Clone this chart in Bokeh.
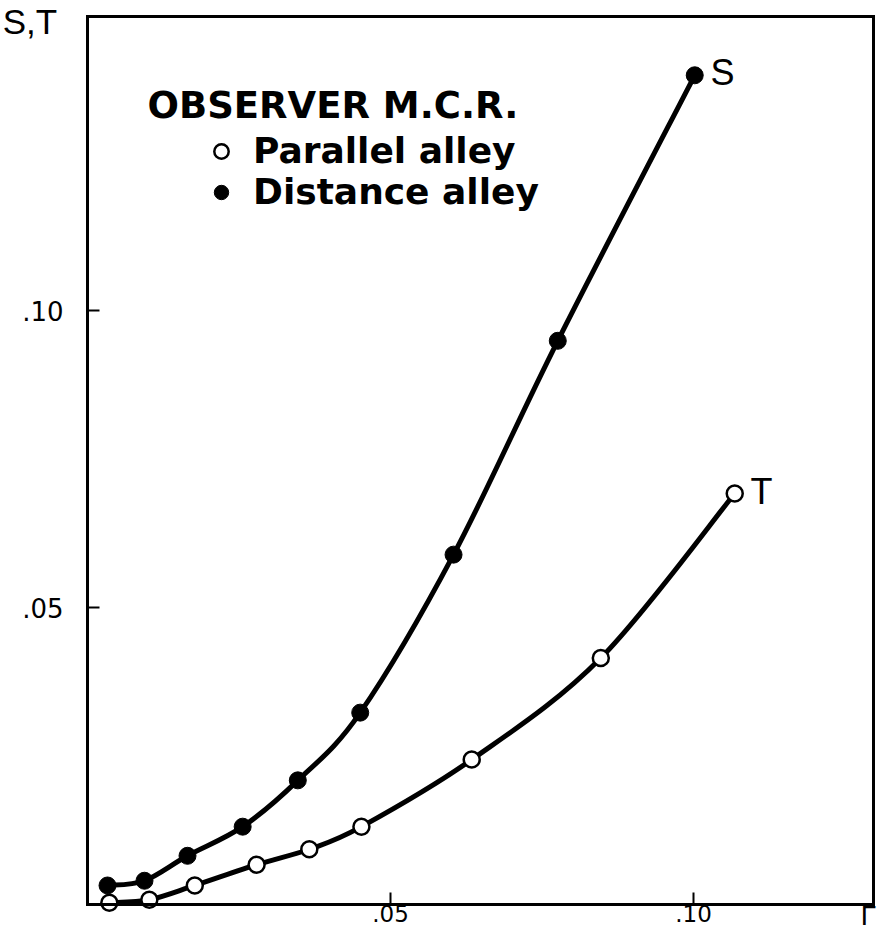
import numpy as np
from bokeh.plotting import figure
from bokeh.models import Range1d, FixedTicker, Label, Legend, LegendItem, LinearAxis
from bokeh.embed import file_html
from bokeh.resources import INLINE

# Distance alley (S), filled circles
gamma_distance = [0.0033, 0.0094, 0.0165, 0.0256, 0.0347, 0.0450, 0.0604, 0.0776, 0.1002]
S_distance = [0.0032, 0.0040, 0.0082, 0.0131, 0.0209, 0.0323, 0.0589, 0.0949, 0.1396]

# Parallel alley (T), open circles
gamma_parallel = [0.0036, 0.0102, 0.0177, 0.0279, 0.0366, 0.0452, 0.0634, 0.0847, 0.1068]
T_parallel = [0.0003, 0.0008, 0.0032, 0.0067, 0.0093, 0.0131, 0.0244, 0.0415, 0.0692]

x_ticks = [0.05, 0.10]
x_tick_labels = [".05", ".10"]
y_ticks = [0.05, 0.10]
y_tick_labels = [".05", ".10"]

# axis box (data limits of the drawn frame)
x_lo, x_hi = 0.0, 0.1297
y_lo, y_hi = 0.0, 0.1495


def curve_through(xs, ys):
    """Bezier pieces (Catmull-Rom style) passing through the given points."""
    x = np.asarray(xs, dtype=float)
    y = np.asarray(ys, dtype=float)
    n = len(x)
    xp = np.concatenate([[x[0]], x, [x[-1]]])
    yp = np.concatenate([[y[0]], y, [y[-1]]])
    return dict(
        x0=x[:-1], y0=y[:-1], x1=x[1:], y1=y[1:],
        cx0=xp[1:n] + (xp[2:n + 1] - xp[0:n - 1]) / 6.0,
        cy0=yp[1:n] + (yp[2:n + 1] - yp[0:n - 1]) / 6.0,
        cx1=xp[2:n + 1] - (xp[3:n + 2] - xp[1:n]) / 6.0,
        cy1=yp[2:n + 1] - (yp[3:n + 2] - yp[1:n]) / 6.0,
    )


p = figure(width=881, height=932, output_backend="svg", toolbar_location=None,
           x_range=Range1d(-0.01436, 0.13102), y_range=Range1d(-0.004714, 0.15219),
           min_border_left=0, min_border_right=0, min_border_top=0, min_border_bottom=0)
p.grid.visible = False
p.background_fill_color = "white"
p.border_fill_color = "white"
p.outline_line_color = None

xa = p.xaxis[0]
ya = p.yaxis[0]
xa.fixed_location = y_lo
xa.bounds = (x_lo, x_hi)
ya.fixed_location = x_lo
ya.bounds = (y_lo, y_hi)

for ax, ticks, labels in ((xa, x_ticks, x_tick_labels), (ya, y_ticks, y_tick_labels)):
    ax.ticker = FixedTicker(ticks=ticks)
    ax.major_label_overrides = {t: l for t, l in zip(ticks, labels)}
    ax.axis_line_width = 3
    ax.axis_line_color = "black"
    ax.axis_line_cap = "square"
    ax.major_tick_in = 12
    ax.major_tick_out = 0
    ax.major_tick_line_width = 2
    ax.minor_tick_line_color = None
    ax.major_label_text_font = "DejaVu Sans"
    ax.major_label_text_color = "black"
xa.major_label_text_font_size = "23px"
xa.major_label_standoff = 1
ya.major_label_text_font_size = "26px"
ya.major_label_standoff = 24

top_axis = LinearAxis(fixed_location=y_hi, bounds=(x_lo, x_hi), ticker=FixedTicker(ticks=[]),
                      axis_line_width=3, axis_line_cap="square",
                      major_tick_line_color=None, minor_tick_line_color=None,
                      major_label_text_font_size="0px")
right_axis = LinearAxis(fixed_location=x_hi, bounds=(y_lo, y_hi), ticker=FixedTicker(ticks=[]),
                        axis_line_width=3, axis_line_cap="square",
                        major_tick_line_color=None, minor_tick_line_color=None,
                        major_label_text_font_size="0px")
p.add_layout(top_axis, "above")
p.add_layout(right_axis, "right")

p.bezier(line_width=5, line_color="black", line_cap="round",
         **curve_through(gamma_distance, S_distance))
p.bezier(line_width=5, line_color="black", line_cap="round",
         **curve_through(gamma_parallel, T_parallel))
s_pts = p.scatter(gamma_distance, S_distance, size=17, fill_color="black", line_color="black")
t_pts = p.scatter(gamma_parallel, T_parallel, size=16, fill_color="white",
                  line_color="black", line_width=2.5)

legend = Legend(items=[LegendItem(label="Parallel alley", renderers=[t_pts]),
                       LegendItem(label="Distance alley", renderers=[s_pts])],
                location=(203, 720), margin=0, padding=0, spacing=0,
                glyph_width=36, glyph_height=36, label_standoff=14,
                border_line_color=None, background_fill_alpha=0,
                label_text_font="DejaVu Sans", label_text_font_style="bold",
                label_text_font_size="36px", label_text_color="black")
p.add_layout(legend)

p.add_layout(Label(x=0.0099, y=0.1309, text="OBSERVER M.C.R.", text_font="DejaVu Sans",
                   text_font_style="bold", text_font_size="37px", text_color="black"))
p.add_layout(Label(x=0.1028, y=0.1367, text="S", text_font="Liberation Sans",
                   text_font_size="36px", text_color="black"))
p.add_layout(Label(x=0.1094, y=0.0660, text="T", text_font="Liberation Sans",
                   text_font_size="36px", text_color="black"))
p.add_layout(Label(x=-0.0140, y=0.14545, text="S,T", text_font="Liberation Sans",
                   text_font_size="35px", text_color="black"))
p.add_layout(Label(x=0.1276, y=-0.00450, text="Γ", text_font="Liberation Sans",
                   text_font_size="28px", text_color="black"))

open("out.html", "w").write(file_html(p, INLINE))
